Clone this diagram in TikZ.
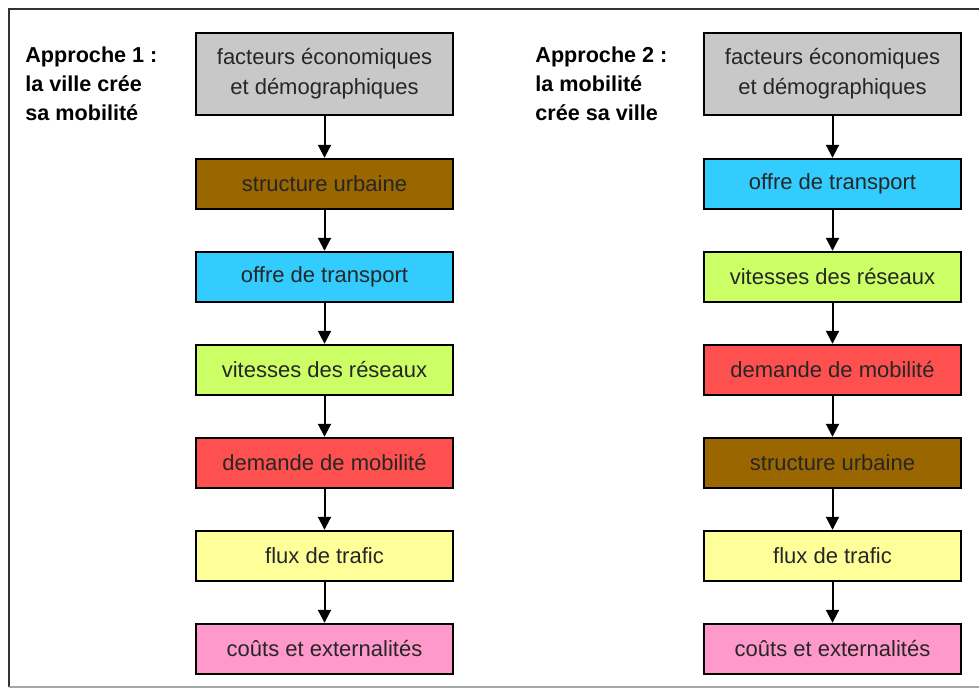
\documentclass[tikz,border=0pt]{standalone}
\usepackage{fontspec}
\setmainfont{Liberation Sans}
\definecolor{facgray}{RGB}{200, 200, 200}
\definecolor{urbbrown}{RGB}{153, 102, 0}
\definecolor{transcyan}{RGB}{51, 204, 255}
\definecolor{vitlime}{RGB}{204, 255, 102}
\definecolor{demred}{RGB}{255, 80, 80}
\definecolor{fluxyellow}{RGB}{255, 255, 153}
\definecolor{coutpink}{RGB}{255, 153, 204}
\usetikzlibrary{arrows.meta, positioning}

\begin{document}
\begin{tikzpicture}[
  x=0.5pt, y=-0.5pt,
  sbox/.style={draw, line width=1.2pt, minimum width=128.5pt, minimum height=25pt, align=center, inner sep=2pt, text=black!85, font=\fontsize{11}{15}\selectfont},
  tbox/.style={sbox, minimum height=41pt},
  titre/.style={anchor=north west, inner sep=0pt, align=left, font=\fontsize{10.8}{14.5}\selectfont\bfseries},
  arr/.style={-{Triangle[width=6.5pt, length=6.5pt]}, line width=1pt}
]
  \useasboundingbox (0,0) rectangle (979,689);
  % cadre
  \draw[line width=0.9pt, black!80] (979,9) -- (9,9) -- (9,687);
  \draw[line width=0.6pt, black!35] (9,687) -- (979,687);

  % approche 1
  \node[titre] (titre1) at (25,46) {Approche 1 :\\la ville crée\\sa mobilité};
  \node[tbox, fill=facgray] (fac1) at (324.5,74) {facteurs économiques\\et démographiques};
  \node[sbox, fill=urbbrown] (urb1) at (324.5,184) {structure urbaine};
  \node[sbox, fill=transcyan] (tra1) at (324.5,277) {offre de transport};
  \node[sbox, fill=vitlime] (vit1) at (324.5,370) {vitesses des réseaux};
  \node[sbox, fill=demred] (dem1) at (324.5,463) {demande de mobilité};
  \node[sbox, fill=fluxyellow] (flu1) at (324.5,556) {flux de trafic};
  \node[sbox, fill=coutpink] (cou1) at (324.5,649) {coûts et externalités};

  \draw[arr] (fac1) -- (urb1);
  \draw[arr] (urb1) -- (tra1);
  \draw[arr] (tra1) -- (vit1);
  \draw[arr] (vit1) -- (dem1);
  \draw[arr] (dem1) -- (flu1);
  \draw[arr] (flu1) -- (cou1);

  % approche 2
  \node[titre] (titre2) at (535,46) {Approche 2 :\\la mobilité\\crée sa ville};
  \node[tbox, fill=facgray] (fac2) at (832.5,74) {facteurs économiques\\et démographiques};
  \node[sbox, fill=transcyan] (tra2) at (832.5,184) {offre de transport};
  \node[sbox, fill=vitlime] (vit2) at (832.5,277) {vitesses des réseaux};
  \node[sbox, fill=demred] (dem2) at (832.5,370) {demande de mobilité};
  \node[sbox, fill=urbbrown] (urb2) at (832.5,463) {structure urbaine};
  \node[sbox, fill=fluxyellow] (flu2) at (832.5,556) {flux de trafic};
  \node[sbox, fill=coutpink] (cou2) at (832.5,649) {coûts et externalités};

  \draw[arr] (fac2) -- (tra2);
  \draw[arr] (tra2) -- (vit2);
  \draw[arr] (vit2) -- (dem2);
  \draw[arr] (dem2) -- (urb2);
  \draw[arr] (urb2) -- (flu2);
  \draw[arr] (flu2) -- (cou2);
\end{tikzpicture}
\end{document}
